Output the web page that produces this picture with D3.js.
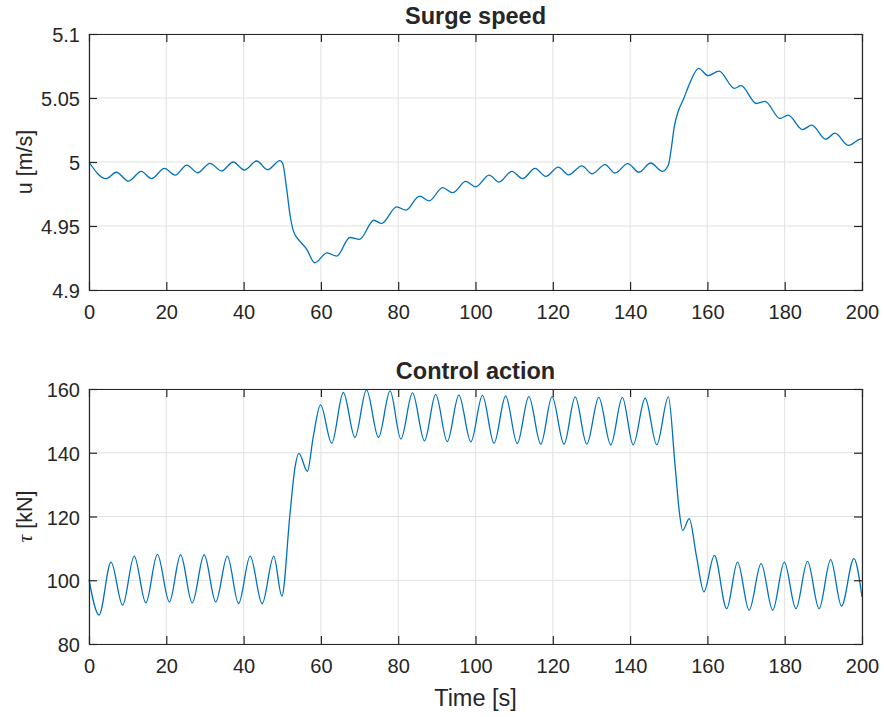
<!DOCTYPE html>
<html>
<head>
<meta charset="utf-8">
<script src="https://cdn.jsdelivr.net/npm/d3@7"></script>
<style>
  html, body { margin: 0; padding: 0; background: #fff; }
  svg { display: block; }
  text { font-family: "Liberation Sans", Arial, Helvetica, sans-serif; fill: #262626; }
</style>
</head>
<body>
<svg id="chart" width="884" height="717"></svg>
<script>
// Surge speed u [m/s]: sample times (s) and values at turning points / transitions
const surgeTime = [0, 4.4, 7.1, 10.2, 13.5, 16.2, 19.5, 22.3, 25.3, 28.1, 31.3, 34.3, 37.3, 40.2, 43.4, 46.2, 49.4,
  50.1, 51.1, 52.0, 52.9, 54.6, 56.3, 58.4, 61.6, 64.1, 67.5, 70.0, 73.7, 75.7, 79.6, 82.0, 85.5, 88.0,
  91.5, 94.1, 97.5, 100.1, 103.5, 106.1, 109.4, 112.2, 115.4, 118.2, 121.4, 124.1, 127.5, 130.2, 133.5,
  136.1, 139.4, 142.3, 145.3, 148.4, 149.9, 150.7, 151.4, 152.5, 153.8, 155.5, 157.7, 160.2, 163.0,
  167.0, 168.7, 172.7, 174.9, 178.8, 180.9, 184.6, 187.0, 190.6, 193.0, 196.5, 199.5, 200];
const surgeSpeed = [5.000, 4.987, 4.992, 4.985, 4.9927, 4.987, 4.995, 4.9898, 4.9976, 4.9916, 4.999, 4.993, 5.000, 4.9937, 5.0008, 4.994, 5.001,
  4.999, 4.980, 4.959, 4.946, 4.938, 4.932, 4.9213, 4.929, 4.9265, 4.941, 4.9396, 4.9545, 4.952, 4.965, 4.9624, 4.9733, 4.9696,
  4.980, 4.976, 4.9848, 4.9806, 4.9898, 4.9843, 4.9927, 4.987, 4.995, 4.9887, 4.996, 4.990, 4.997, 4.9908, 4.998,
  4.9914, 4.9987, 4.992, 4.9992, 4.9927, 4.9976, 5.0115, 5.027, 5.040, 5.049, 5.062, 5.0732, 5.0675, 5.071,
  5.0575, 5.0596, 5.0457, 5.0473, 5.034, 5.0366, 5.0253, 5.0288, 5.0178, 5.0225, 5.013, 5.0178, 5.018];

// Control action tau [kN]
const tauTime = [0, 2.6, 5.7, 8.7, 11.7, 14.7, 17.7, 20.8, 23.7, 26.7, 29.8, 32.8, 35.8, 38.7, 41.7, 44.8, 47.8, 49.9,
  52.0, 53.3, 54.3, 56.5, 58.0, 59.9, 62.8, 65.8, 68.8, 71.8, 74.9, 77.9, 80.7, 83.7, 86.8, 89.7, 92.7, 95.7, 98.8,
  101.8, 104.8, 107.8, 110.8, 113.8, 116.9, 119.8, 122.9, 125.8, 128.8, 131.9, 135.0, 138.0, 140.8, 143.9, 146.9, 149.9,
  151.6, 152.8, 153.6, 155.3, 157.2, 159.1, 161.8, 165.0, 167.8, 170.8, 173.9, 176.9, 179.9, 182.9, 185.9, 188.9,
  191.9, 194.7, 197.9, 200];
const tauValue = [100.2, 89.1, 105.7, 92.2, 107.6, 92.9, 108.1, 93.2, 108.0, 92.9, 108.0, 93.2, 107.6, 92.7, 107.6, 92.7, 107.6, 95.0,
  120.8, 135.4, 139.8, 134.2, 144.8, 155.0, 143.0, 158.9, 144.8, 159.7, 144.8, 159.4, 144.3, 158.8, 143.75, 158.3, 143.5, 158.1, 143.4,
  158.0, 143.0, 157.8, 142.9, 157.6, 142.7, 157.6, 142.7, 157.5, 142.7, 157.4, 142.5, 157.4, 142.5, 157.1, 142.5, 157.5,
  136.5, 120.8, 115.6, 119.3, 107.3, 96.4, 107.8, 91.1, 105.7, 90.6, 105.2, 90.6, 105.7, 91.1, 105.9, 91.1,
  106.5, 91.9, 106.8, 94.8];

// Axis ticks
const timeTicks = [0, 20, 40, 60, 80, 100, 120, 140, 160, 180, 200];
const surgeTicks = [4.9, 4.95, 5, 5.05, 5.1];
const surgeTickLabels = ["4.9", "4.95", "5", "5.05", "5.1"];
const tauTicks = [80, 100, 120, 140, 160];
const tauTickLabels = ["80", "100", "120", "140", "160"];

const svg = d3.select("#chart");
const left = 89, right = 862;
const lineColor = "#0072bd";
const axisColor = "#262626";
const gridColor = "#e1e1e1";
const tickLen = 8;

function panel(opts) {
  const { top, bottom, yDomain, yTicks, yLabels, xs, ys, title, yLabelNode, xLabel } = opts;
  const w = right - left, h = bottom - top;
  const x = d3.scaleLinear().domain([0, 200]).range([0, w]);
  const y = d3.scaleLinear().domain(yDomain).range([h, 0]);
  const g = svg.append("g").attr("transform", `translate(${left},${top})`);

  // grid
  g.append("g").attr("class", "grid")
    .selectAll("line.gx").data(timeTicks).join("line")
    .attr("x1", d => x(d)).attr("x2", d => x(d)).attr("y1", 0).attr("y2", h)
    .attr("stroke", gridColor).attr("stroke-width", 1);
  g.append("g").attr("class", "grid")
    .selectAll("line.gy").data(yTicks).join("line")
    .attr("x1", 0).attr("x2", w).attr("y1", d => y(d)).attr("y2", d => y(d))
    .attr("stroke", gridColor).attr("stroke-width", 1);

  // data line
  const pts = xs.map((t, i) => [t, ys[i]]);
  const line = d3.line().x(d => x(d[0])).y(d => y(d[1])).curve(d3.curveMonotoneX);
  g.append("path").datum(pts)
    .attr("d", line)
    .attr("fill", "none")
    .attr("stroke", lineColor)
    .attr("stroke-width", 1.3)
    .attr("stroke-linejoin", "round");

  // axes (ticks pointing inward, box on)
  const fmtY = d => yLabels[yTicks.indexOf(d)];
  const styleAxis = sel => {
    sel.select(".domain").attr("stroke", axisColor).attr("stroke-width", 1.2);
    sel.selectAll(".tick line").attr("stroke", axisColor).attr("stroke-width", 1.2);
    sel.selectAll(".tick text").attr("fill", axisColor).style("font-size", "20px")
      .style("font-family", '"Liberation Sans", Arial, Helvetica, sans-serif');
  };
  g.append("g").attr("transform", `translate(0,${h})`)
    .call(d3.axisBottom(x).tickValues(timeTicks).tickFormat(d3.format("d"))
      .tickSizeInner(-tickLen).tickSizeOuter(0).tickPadding(15))
    .call(styleAxis);
  g.append("g")
    .call(d3.axisTop(x).tickValues(timeTicks).tickFormat("")
      .tickSizeInner(-tickLen).tickSizeOuter(0))
    .call(styleAxis);
  g.append("g")
    .call(d3.axisLeft(y).tickValues(yTicks).tickFormat(fmtY)
      .tickSizeInner(-tickLen).tickSizeOuter(0).tickPadding(9))
    .call(styleAxis)
    .selectAll(".tick text").attr("dy", "0.38em");
  g.append("g").attr("transform", `translate(${w},0)`)
    .call(d3.axisRight(y).tickValues(yTicks).tickFormat("")
      .tickSizeInner(-tickLen).tickSizeOuter(0))
    .call(styleAxis);
  g.selectAll(".domain").attr("stroke-linecap", "square");

  // title
  g.append("text")
    .attr("x", w / 2).attr("y", -10)
    .attr("text-anchor", "middle")
    .style("font-size", "23.5px").style("font-weight", "bold")
    .attr("fill", "#000")
    .text(title);

  // y label
  const yl = svg.append("text")
    .attr("transform", `translate(32,${top + h / 2}) rotate(-90)`)
    .attr("text-anchor", "middle")
    .style("font-size", "21.5px");
  yLabelNode(yl);

  if (xLabel) {
    svg.append("text")
      .attr("x", left + w / 2).attr("y", bottom + 62)
      .attr("text-anchor", "middle")
      .style("font-size", "23.5px")
      .text(xLabel);
  }
}

panel({
  top: 34, bottom: 290,
  yDomain: [4.9, 5.1], yTicks: surgeTicks, yLabels: surgeTickLabels,
  xs: surgeTime, ys: surgeSpeed,
  title: "Surge speed",
  yLabelNode: t => t.text("u [m/s]")
});

panel({
  top: 389, bottom: 644,
  yDomain: [80, 160], yTicks: tauTicks, yLabels: tauTickLabels,
  xs: tauTime, ys: tauValue,
  title: "Control action",
  yLabelNode: t => {
    t.append("tspan").style("font-family", '"Liberation Serif", "DejaVu Serif", serif')
      .style("font-style", "italic").text("τ");
    t.append("tspan").text(" [kN]");
  },
  xLabel: "Time [s]"
});
</script>
</body>
</html>
